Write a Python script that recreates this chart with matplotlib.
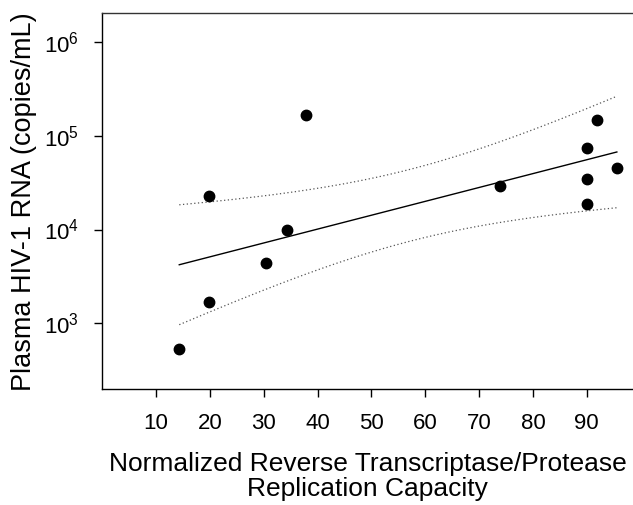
import numpy as np
import matplotlib
matplotlib.use("Agg")
import matplotlib.pyplot as plt

plt.rcParams['font.family'] = ['Liberation Sans', 'DejaVu Sans']
plt.rcParams['mathtext.fontset'] = 'custom'
plt.rcParams['mathtext.rm'] = 'Liberation Sans'
plt.rcParams['mathtext.it'] = 'Liberation Sans:italic'

# replication capacity (%) and plasma RNA (copies/mL)
rc = np.array([14.3, 19.8, 19.9, 30.5, 34.3, 37.8, 73.8, 90.1, 90.1, 90.1, 92.0, 95.6])
rna = np.array([537, 1680, 22700, 4400, 10000, 166000, 28800, 18500, 34400, 73400, 147000, 45500])

x_ticks = [10, 20, 30, 40, 50, 60, 70, 80, 90]
y_ticks = [1e3, 1e4, 1e5, 1e6]
t_crit = 2.228  # t(0.975, df=10)

# log-linear regression with 95% confidence band
ly = np.log10(rna)
slope, icpt = np.polyfit(rc, ly, 1)
n = len(rc)
resid = ly - (icpt + slope * rc)
s = np.sqrt(np.sum(resid ** 2) / (n - 2))
sxx = np.sum((rc - rc.mean()) ** 2)
xf = np.linspace(rc.min(), rc.max(), 200)
yf = icpt + slope * xf
half = t_crit * s * np.sqrt(1.0 / n + (xf - rc.mean()) ** 2 / sxx)

fig = plt.figure(figsize=(6.33, 5.05), dpi=100)
ax = fig.add_axes([0.1616, 0.2297, 0.8384, 0.7436])

ax.plot(xf, 10 ** yf, color='black', lw=1.0)
ax.plot(xf, 10 ** (yf + half), color='#555555', lw=0.9, ls=(0, (1, 2)))
ax.plot(xf, 10 ** (yf - half), color='#555555', lw=0.9, ls=(0, (1, 2)))
ax.plot(rc, rna, 'o', color='black', ms=7.5, zorder=3)

ax.set_yscale('log')
ax.set_xlim(0, 98.6)
ax.set_ylim(200, 2e6)
ax.set_xticks(x_ticks)
ax.set_yticks(y_ticks)
ax.minorticks_off()
ax.tick_params(direction='out', length=6, width=1, labelsize=16, pad=11)

ax.spines['right'].set_visible(False)
ax.spines['top'].set_color('#333333')
for sp in ax.spines.values():
    sp.set_linewidth(1.0)

ax.set_xlabel('Normalized Reverse Transcriptase/Protease\nReplication Capacity',
              fontsize=19, labelpad=13, linespacing=1.08)
ax.set_ylabel('Plasma HIV-1 RNA (copies/mL)', fontsize=19.5, labelpad=5)

fig.savefig('out.png', dpi=100)
